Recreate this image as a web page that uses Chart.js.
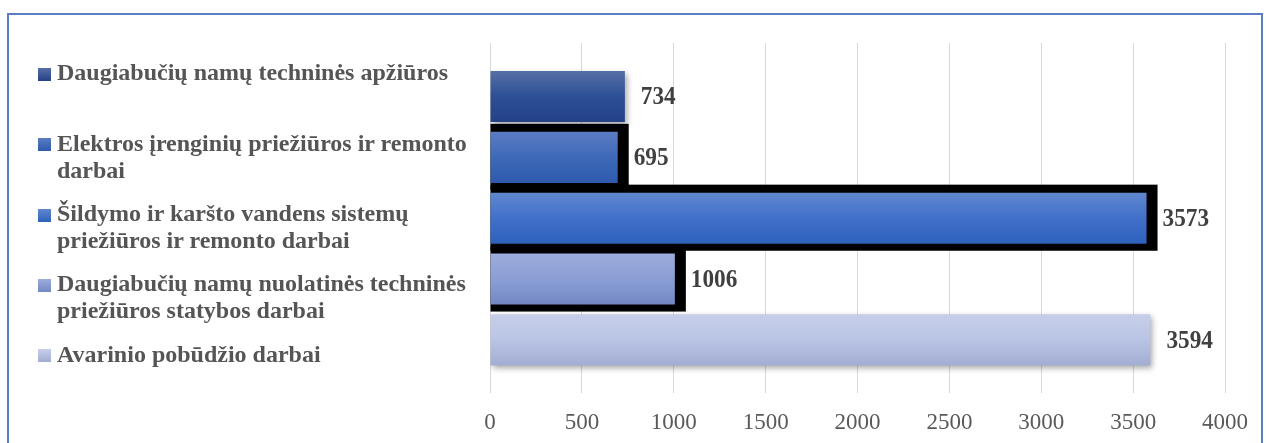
<!DOCTYPE html>
<html>
<head>
<meta charset="utf-8">
<script src="https://cdn.jsdelivr.net/npm/chart.js@4.4.0/dist/chart.umd.min.js"></script>
<style>
  html, body { margin: 0; padding: 0; background: #fff; overflow: hidden; }
  #wrap { position: relative; width: 1269px; height: 443px; overflow: hidden; }
  #frame { position: absolute; left: 7px; top: 13px; width: 1256px; height: 470px; border: 2px solid #5a7dc5; box-sizing: border-box; }
  #myChart { position: absolute; left: 0; top: 0; }
  .item { position: absolute; left: 38px; display: flex; align-items: flex-start; }
  .box { width: 13px; height: 13px; margin-top: 8.6px; margin-right: 6px; flex: none; }
  .txt { font: bold 24px/27px "Liberation Serif", "Times New Roman", serif; color: #555555; white-space: nowrap; }
</style>
</head>
<body>
<div id="wrap">
  <div id="frame"></div>
  <canvas id="myChart" width="1269" height="453"></canvas>
  <div id="legend"></div>
</div>
<script>
// duomenys
const seriesLabels = [
  ["Daugiabučių namų techninės apžiūros"],
  ["Elektros įrenginių priežiūros ir remonto", "darbai"],
  ["Šildymo ir karšto vandens sistemų", "priežiūros ir remonto darbai"],
  ["Daugiabučių namų nuolatinės techninės", "priežiūros statybos darbai"],
  ["Avarinio pobūdžio darbai"],
];
const seriesValues = [734, 695, 3573, 1006, 3594];
const xTicks = [0, 500, 1000, 1500, 2000, 2500, 3000, 3500, 4000];

// spalvos (viršus, vidurys, apačia)
const fills = [
  ["#566fa6", "#2c4f95", "#244186"],
  ["#5b7cc3", "#3e69b9", "#2e5aad"],
  ["#6187cf", "#4070ca", "#2e61bc"],
  ["#9cacdc", "#8b9ed5", "#7388c3"],
  ["#c6cee9", "#bac5e5", "#a2add2"],
];
const legendColors = ["#2f5194", "#3b65b6", "#4472c4", "#8c9fd5", "#bcc6e6"];
const framed = [false, true, true, true, false];

const barLook = {
  id: "barLook",
  beforeDatasetsDraw(chart) {
    const ctx = chart.ctx;
    chart.data.datasets.forEach((ds, i) => {
      chart.getDatasetMeta(i).data.forEach(bar => {
        const top = bar.y - bar.height / 2;
        const bot = bar.y + bar.height / 2;
        const g = ctx.createLinearGradient(0, top, 0, bot);
        g.addColorStop(0, fills[i][0]);
        g.addColorStop(0.5, fills[i][1]);
        g.addColorStop(1, fills[i][2]);
        bar.options.backgroundColor = g;
        if (framed[i]) {
          ctx.fillStyle = "#000";
          ctx.fillRect(bar.base, top - 8, bar.x - bar.base + 11, bar.height + 15);
        }
      });
    });
  },
  beforeDatasetDraw(chart, args) {
    const ctx = chart.ctx;
    ctx.save();
    if (!framed[args.index]) {
      ctx.shadowColor = "rgba(0,0,0,0.35)";
      ctx.shadowBlur = 6;
      ctx.shadowOffsetX = 2;
      ctx.shadowOffsetY = 3;
    }
  },
  afterDatasetDraw(chart) {
    chart.ctx.restore();
  },
  afterDatasetsDraw(chart) {
    const ctx = chart.ctx;
    chart.data.datasets.forEach((ds, i) => {
      chart.getDatasetMeta(i).data.forEach((bar, j) => {
        ctx.save();
        ctx.font = 'bold 25px "Liberation Serif", "Times New Roman", serif';
        ctx.fillStyle = "#404040";
        ctx.textAlign = "left";
        ctx.textBaseline = "middle";
        ctx.translate(bar.x + 16, bar.y + 1.5);
        ctx.scale(0.93, 1);
        ctx.fillText(ds.data[j], 0, 0);
        ctx.restore();
      });
    });
  }
};

const datasets = seriesLabels.map((label, i) => ({
  label,
  data: [seriesValues[i]],
  backgroundColor: legendColors[i],
  borderWidth: 0,
}));

const ctx = document.getElementById("myChart").getContext("2d");
const chart = new Chart(ctx, {
  type: "bar",
  data: { labels: [""], datasets },
  options: {
    responsive: false,
    animation: false,
    indexAxis: "y",
    layout: { padding: { left: 490, right: 44, top: 43, bottom: 0 } },
    datasets: { bar: { categoryPercentage: 0.868, barPercentage: 0.84 } },
    plugins: { legend: { display: false }, tooltip: { enabled: false } },
    scales: {
      x: {
        min: 0,
        max: 4000,
        afterBuildTicks: axis => { axis.ticks = xTicks.map(v => ({ value: v })); },
        ticks: {
          color: "#595959",
          padding: 16,
          callback: v => String(v),
          font: { family: '"Liberation Serif", "Times New Roman", serif', size: 23 },
        },
        grid: { color: "#d9d9d9", drawTicks: false },
        border: { display: false },
      },
      y: { display: false },
    },
  },
  plugins: [barLook],
});

// legenda kairėje
const legend = document.getElementById("legend");
chart.data.datasets.forEach((ds, i) => {
  const item = document.createElement("div");
  item.className = "item";
  item.style.top = (59.4 + i * 70.3) + "px";
  item.innerHTML = '<div class="box" style="background:linear-gradient(' +
    fills[i][0] + ',' + fills[i][2] + ')"></div>' +
    '<div class="txt">' + ds.label.join("<br>") + "</div>";
  legend.appendChild(item);
});
</script>
</body>
</html>
